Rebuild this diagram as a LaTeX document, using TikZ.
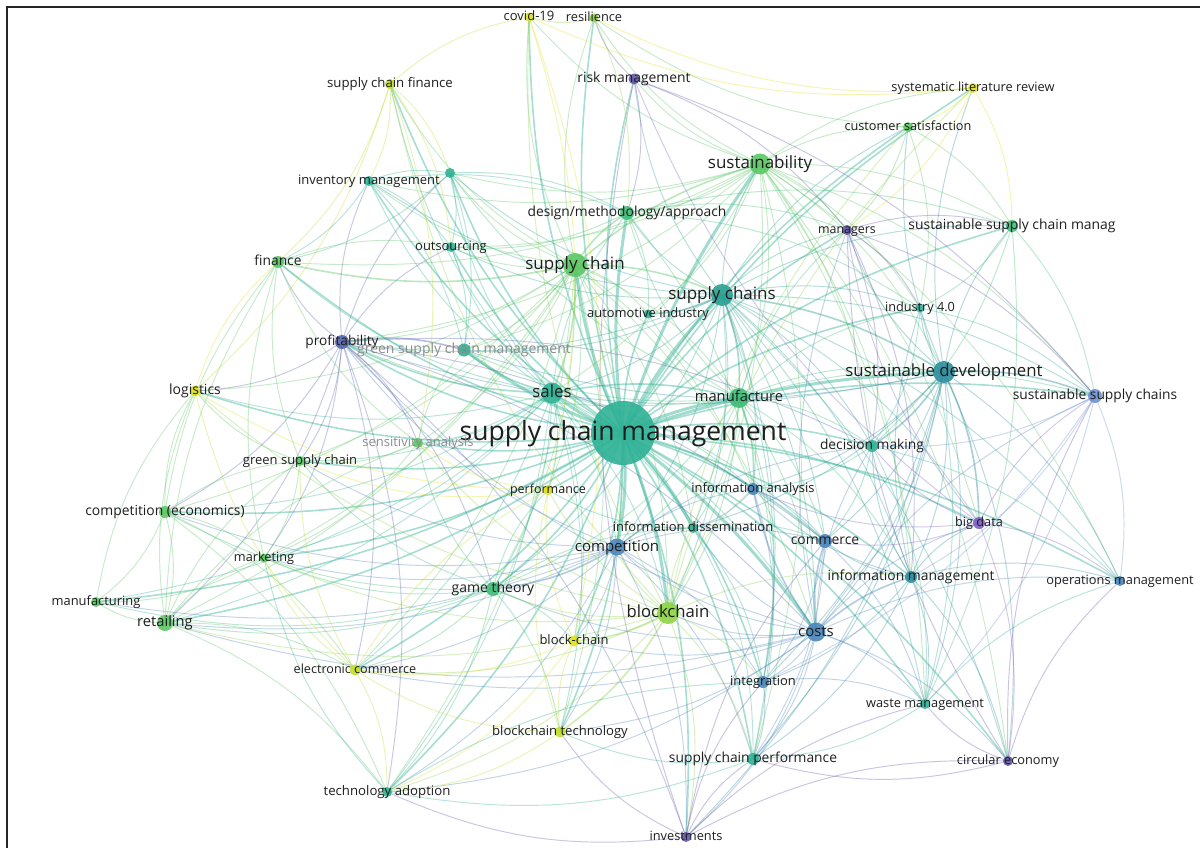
\documentclass[tikz,border=0pt]{standalone}
\usepackage{fontspec}
\setmainfont{Open Sans}
\usetikzlibrary{backgrounds}
\definecolor{Y}{HTML}{E0E21E}
\definecolor{YG}{HTML}{C2DE2A}
\definecolor{LG}{HTML}{8ED545}
\definecolor{G}{HTML}{5CC765}
\definecolor{G2}{HTML}{3FBD78}
\definecolor{T}{HTML}{2FB296}
\definecolor{T2}{HTML}{2AA093}
\definecolor{TB}{HTML}{2E8E9E}
\definecolor{B}{HTML}{4C86BA}
\definecolor{LB}{HTML}{6E92D2}
\definecolor{P}{HTML}{6457AA}
\definecolor{PL}{HTML}{7D5FC6}
\definecolor{IND}{HTML}{5563AD}
\definecolor{txt}{HTML}{1E1E1E}
\tikzset{
  dot/.style={circle, inner sep=0pt, fill opacity=0.9, draw=none},
  lbl/.style={inner sep=0pt, text=txt, anchor=base},
  faded/.style={lbl, text=black!45},
  edge/.style={line width=0.95pt, opacity=0.34},
  hub/.style={line width=1.6pt, opacity=0.42},
  bighub/.style={line width=3pt, opacity=0.45},
}
\newcommand\vn[5]{\colorlet{c#1}{#5}\node[dot, fill=c#1, minimum size=#4pt] (#1) at (#2,#3) {};}
\newcommand\lb[3]{\node[lbl, font=\fontsize{#2}{#2}\selectfont] (#1-t) at ([yshift=-0.27*#2pt]#1.center) {#3};}
\newcommand\lbf[3]{\node[faded, font=\fontsize{#2}{#2}\selectfont] (#1-t) at ([yshift=-0.27*#2pt]#1.center) {#3};}
\begin{document}
\begin{tikzpicture}[x=1pt,y=-1pt]
\useasboundingbox (0,0) rectangle (1200,848);
% ---------- nodes (circles) ----------
\vn{cov}{529}{17}{9}{Y}
\vn{res}{594}{18}{9}{LG}
\vn{risk}{634}{79}{11}{P}
\vn{scf}{390}{84}{10}{YG}
\vn{slr}{973}{88}{10}{Y}
\vn{cus}{908}{127}{10}{G}
\vn{sus}{760}{164}{21}{G}
\vn{inv}{369}{181}{10}{T}
\vn{unk}{450}{173}{10}{T}
\vn{dma}{627}{213}{14}{G2}
\vn{mgr}{847}{230}{10}{P}
\vn{sscm}{1012}{226}{12}{G2}
\vn{fin}{278}{262}{12}{G}
\vn{out}{451}{247}{10}{T}
\vn{sc}{575}{265}{24}{G}
\vn{scs}{722}{295}{22}{T2}
\vn{auto}{648}{314}{9}{T}
\vn{ind}{920}{308}{9}{T}
\vn{prof}{342}{342}{14}{IND}
\vn{gscm}{464}{350}{13}{T}
\vn{sd}{944}{372}{22}{TB}
\vn{log}{195}{391}{11}{Y}
\vn{sales}{552}{393}{21}{T}
\vn{manu}{739}{398}{20}{G2}
\vn{sscs}{1095}{396}{14}{LB}
\vn{sens}{418}{443}{10}{G}
\vn{dm}{872}{446}{12}{T}
\vn{gsc}{300}{461}{10}{G}
\vn{perf}{548}{490}{10}{Y}
\vn{ia}{753}{489}{12}{B}
\vn{ce}{165}{512}{12}{G}
\vn{bd}{979}{523}{12}{PL}
\vn{idis}{693}{528}{10}{T}
\vn{comp}{617}{547}{17}{B}
\vn{com}{825}{541}{14}{B}
\vn{mkt}{264}{558}{9}{G}
\vn{im}{911}{577}{12}{TB}
\vn{om}{1120}{581}{10}{B}
\vn{gt}{493}{589}{14}{G2}
\vn{mfg}{96}{602}{10}{G}
\vn{bc}{668}{613}{22}{LG}
\vn{ret}{165}{623}{16}{G}
\vn{cost}{816}{632}{19}{B}
\vn{bch}{574}{641}{11}{Y}
\vn{ec}{355}{670}{11}{YG}
\vn{int}{763}{682}{12}{B}
\vn{wm}{925}{704}{10}{T}
\vn{bct}{560}{732}{11}{YG}
\vn{scp}{753}{759}{12}{T}
\vn{circ}{1008}{761}{10}{P}
\vn{ta}{387}{792}{10}{T}
\vn{invest}{686}{837}{10}{P}
\vn{scm}{623}{433}{64}{T}
% ---------- edges ----------
\begin{scope}[on background layer]
\fill[white] (0,0) rectangle (1200,848);
\foreach \a/\b in {scm/sc,scm/scs,scm/sus,scm/sales,scm/manu,scm/sd,scm/cost,scm/bc,scm/comp,scm/dma,scm/gscm,scm/idis}
  \draw[bighub, draw=c\a] (\a.center) to[bend left=8] (\b.center);
\foreach \a/\b in {scm/prof,scm/gt,scm/ia,scm/com,scm/im,scm/dm,scm/auto,scm/sens,
  scm/perf,scm/out,scm/inv,scm/unk,scm/fin,scm/ce,scm/ret,scm/gsc,scm/mkt,scm/mfg,scm/log,scm/ec,
  scm/bch,scm/bct,scm/int,scm/scp,scm/wm,scm/ta,scm/invest,scm/circ,scm/om,scm/bd,scm/sscs,scm/ind,
  scm/mgr,scm/sscm,scm/cus,scm/slr,scm/risk,scm/res,scm/cov,scm/scf,
  sc/sales,sc/scs,sc/sus,sc/dma,sales/manu,scs/sd,scs/manu,sd/sscs,cost/com,cost/im,bc/bch,bc/bct,
  sales/prof,prof/gscm,comp/gt,sc/fin,sd/dm,cost/ia,sales/gscm,scs/auto,manu/ia,sd/bd}
  \draw[hub, draw=c\a] (\a.center) to[bend left=12] (\b.center);
\foreach \a/\b in {
  sc/scf,sc/inv,sc/unk,sc/out,sc/manu,sc/prof,sc/gscm,sc/sens,sc/gsc,sc/perf,sc/comp,sc/gt,sc/bc,
  sc/ret,sc/ce,sc/mkt,sc/log,sc/cost,sc/res,sc/cov,sc/ec,sc/auto,sc/idis,sc/ia,sc/bct,sc/ta,
  scs/sus,scs/dma,scs/mgr,scs/sscm,scs/ind,scs/dm,scs/ia,scs/com,scs/cost,scs/im,scs/bd,
  scs/om,scs/sscs,scs/wm,scs/circ,scs/scp,scs/int,scs/bc,scs/comp,scs/idis,scs/risk,scs/cus,scs/unk,
  scs/inv,scs/out,scs/prof,scs/sales,scs/gscm,scs/gt,
  sus/risk,sus/res,sus/cus,sus/slr,sus/mgr,sus/sscm,sus/dma,sus/sd,sus/sscs,sus/ind,sus/manu,
  sus/sales,sus/bc,sus/circ,sus/wm,sus/scp,sus/om,sus/bd,sus/fin,sus/inv,sus/unk,sus/out,sus/prof,
  sus/cov,sus/dm,sus/im,sus/auto,sus/gscm,
  sales/fin,sales/inv,sales/unk,sales/out,sales/sens,sales/gsc,sales/ce,sales/mkt,
  sales/mfg,sales/ret,sales/log,sales/gt,sales/perf,sales/comp,sales/bc,sales/cost,sales/ec,
  sales/ta,sales/bch,sales/idis,sales/ia,sales/dma,sales/com,sales/bct,sales/scf,
  manu/sd,manu/dm,manu/idis,manu/cost,manu/com,manu/comp,manu/int,manu/prof,manu/gt,
  manu/bc,manu/mgr,manu/ind,manu/auto,manu/dma,manu/unk,manu/im,manu/scp,manu/gscm,manu/sscs,
  sd/sscm,sd/mgr,sd/ind,sd/im,sd/cost,sd/com,sd/wm,sd/circ,sd/om,sd/cus,sd/slr,sd/scp,
  sd/int,sd/invest,sd/ia,sd/prof,sd/idis,sd/gscm,
  cost/idis,cost/comp,cost/int,cost/scp,cost/wm,cost/circ,cost/invest,cost/bd,cost/om,cost/dm,
  cost/prof,cost/bc,cost/gt,cost/ta,cost/bch,cost/bct,cost/ec,cost/ret,cost/sscs,cost/mgr,
  bc/perf,bc/ec,bc/gt,bc/comp,bc/idis,bc/scp,bc/int,bc/invest,bc/ta,bc/scf,bc/slr,bc/cov,bc/log,
  bc/cus,bc/ia,bc/im,bc/ret,bc/mkt,bc/sens,
  comp/ce,comp/mkt,comp/ret,comp/mfg,comp/ec,comp/ta,comp/prof,comp/idis,comp/ia,comp/com,
  comp/int,comp/scp,comp/invest,comp/bch,comp/bct,comp/gsc,comp/dm,
  prof/fin,prof/inv,prof/unk,prof/out,prof/gsc,prof/ce,prof/log,prof/mkt,prof/ret,prof/ec,
  prof/gt,prof/invest,prof/ta,prof/cost,prof/com,prof/sens,prof/dm,
  gt/ce,gt/mkt,gt/ret,gt/mfg,gt/ec,gt/ta,gt/bch,gt/bct,gt/gsc,gt/sens,gt/perf,gt/idis,
  ce/mkt,ce/ret,ce/mfg,ce/gsc,ce/log,ce/fin,ce/ec,ce/ta,
  ret/mfg,ret/mkt,ret/ec,ret/ta,ret/log,ret/fin,ret/gsc,ret/sens,
  invest/scp,invest/int,invest/circ,invest/wm,invest/risk,invest/ta,invest/bct,invest/com,
  im/bd,im/om,im/wm,im/circ,im/ia,im/com,im/dm,im/scp,im/int,im/ind,
  bd/om,bd/circ,bd/mgr,bd/dm,bd/ia,bd/com,bd/risk,bd/sscs,
  circ/wm,circ/om,circ/scp,circ/sscs,circ/mgr,
  risk/mgr,risk/dma,risk/sscs,risk/res,
  slr/cus,slr/sscm,slr/cov,slr/res,slr/mgr,
  cus/sscm,cus/mgr,cus/ind,cus/res,
  scf/inv,scf/unk,scf/out,scf/fin,scf/log,scf/cov,scf/sens,
  inv/unk,inv/out,inv/fin,inv/gscm,inv/dma,
  unk/out,unk/dma,unk/gscm,unk/fin,
  dma/mgr,dma/auto,dma/out,dma/sscm,dma/ind,dma/ia,
  mgr/sscm,mgr/ind,mgr/dm,mgr/sscs,mgr/im,
  sscm/ind,sscm/sscs,sscm/dm,sscm/wm,
  ind/dm,ind/sscs,ind/wm,
  sscs/om,sscs/dm,sscs/im,sscs/wm,sscs/int,
  dm/ia,dm/com,dm/om,dm/wm,
  ia/idis,ia/com,ia/int,
  idis/com,idis/perf,idis/int,idis/scp,
  com/int,com/wm,com/scp,
  int/scp,int/wm,wm/scp,wm/om,
  scp/ta,scp/bct,bct/bch,bct/ec,bct/ta,bct/perf,
  bch/perf,bch/ec,bch/ta,ec/ta,ec/log,ec/perf,ec/mkt,ec/gsc,
  perf/sens,perf/gsc,perf/log,sens/gsc,sens/mkt,sens/fin,sens/gscm,
  gsc/fin,gsc/mkt,gsc/log,mkt/mfg,mkt/fin,mfg/log,log/fin,fin/out,out/gscm,
  ta/mkt,ta/int,res/cov,res/dma,cov/perf,cov/bch}
  \draw[edge, draw=c\a] (\a.center) to[bend left=15] (\b.center);
\end{scope}
% ---------- labels ----------
\lb{cov}{13}{covid-19}
\lb{res}{12.8}{resilience}
\lb{risk}{13.9}{risk management}
\lb{scf}{13.2}{supply chain finance}
\lb{slr}{12.8}{systematic literature review}
\lb{cus}{12.7}{customer satisfaction}
\lb{sus}{17}{sustainability}
\lb{inv}{13}{inventory management}
\lb{dma}{13.8}{design/methodology/approach}
\lb{mgr}{12.4}{managers}
\lb{sscm}{13.9}{sustainable supply chain manag}
\lb{fin}{13.8}{finance}
\lb{out}{12.9}{outsourcing}
\lb{sc}{17}{supply chain}
\lb{scs}{17}{supply chains}
\lb{auto}{12.9}{automotive industry}
\lb{ind}{12.7}{industry 4.0}
\lb{prof}{13.7}{profitability}
\lbf{gscm}{14}{green supply chain management}
\lb{sd}{16.8}{sustainable development}
\lb{log}{14}{logistics}
\lb{sales}{16.8}{sales}
\lb{manu}{14.7}{manufacture}
\lb{sscs}{13.8}{sustainable supply chains}
\lb{scm}{26.5}{supply chain management}
\lbf{sens}{13}{sensitivity analysis}
\lb{dm}{13.8}{decision making}
\lb{gsc}{13}{green supply chain}
\lb{perf}{12.5}{performance}
\lb{ia}{13}{information analysis}
\lb{ce}{13.9}{competition (economics)}
\lb{bd}{12.7}{big data}
\lb{idis}{13}{information dissemination}
\lb{comp}{15}{competition}
\lb{com}{13.9}{commerce}
\lb{mkt}{12.7}{marketing}
\lb{im}{13.9}{information management}
\lb{om}{12.8}{operations management}
\lb{gt}{14}{game theory}
\lb{mfg}{12.9}{manufacturing}
\lb{bc}{16.7}{blockchain}
\lb{ret}{14.7}{retailing}
\lb{cost}{14.9}{costs}
\lb{bch}{13}{block-chain}
\lb{ec}{12.6}{electronic commerce}
\lb{int}{12.9}{integration}
\lb{wm}{12.8}{waste management}
\lb{bct}{13.1}{blockchain technology}
\lb{scp}{13.8}{supply chain performance}
\lb{circ}{12.8}{circular economy}
\lb{ta}{13.2}{technology adoption}
\lb{invest}{12.8}{investments}
% ---------- frame ----------
\draw[line width=1.6pt, black!85] (7,848) -- (7,7) -- (1200,7);
\end{tikzpicture}
\end{document}
